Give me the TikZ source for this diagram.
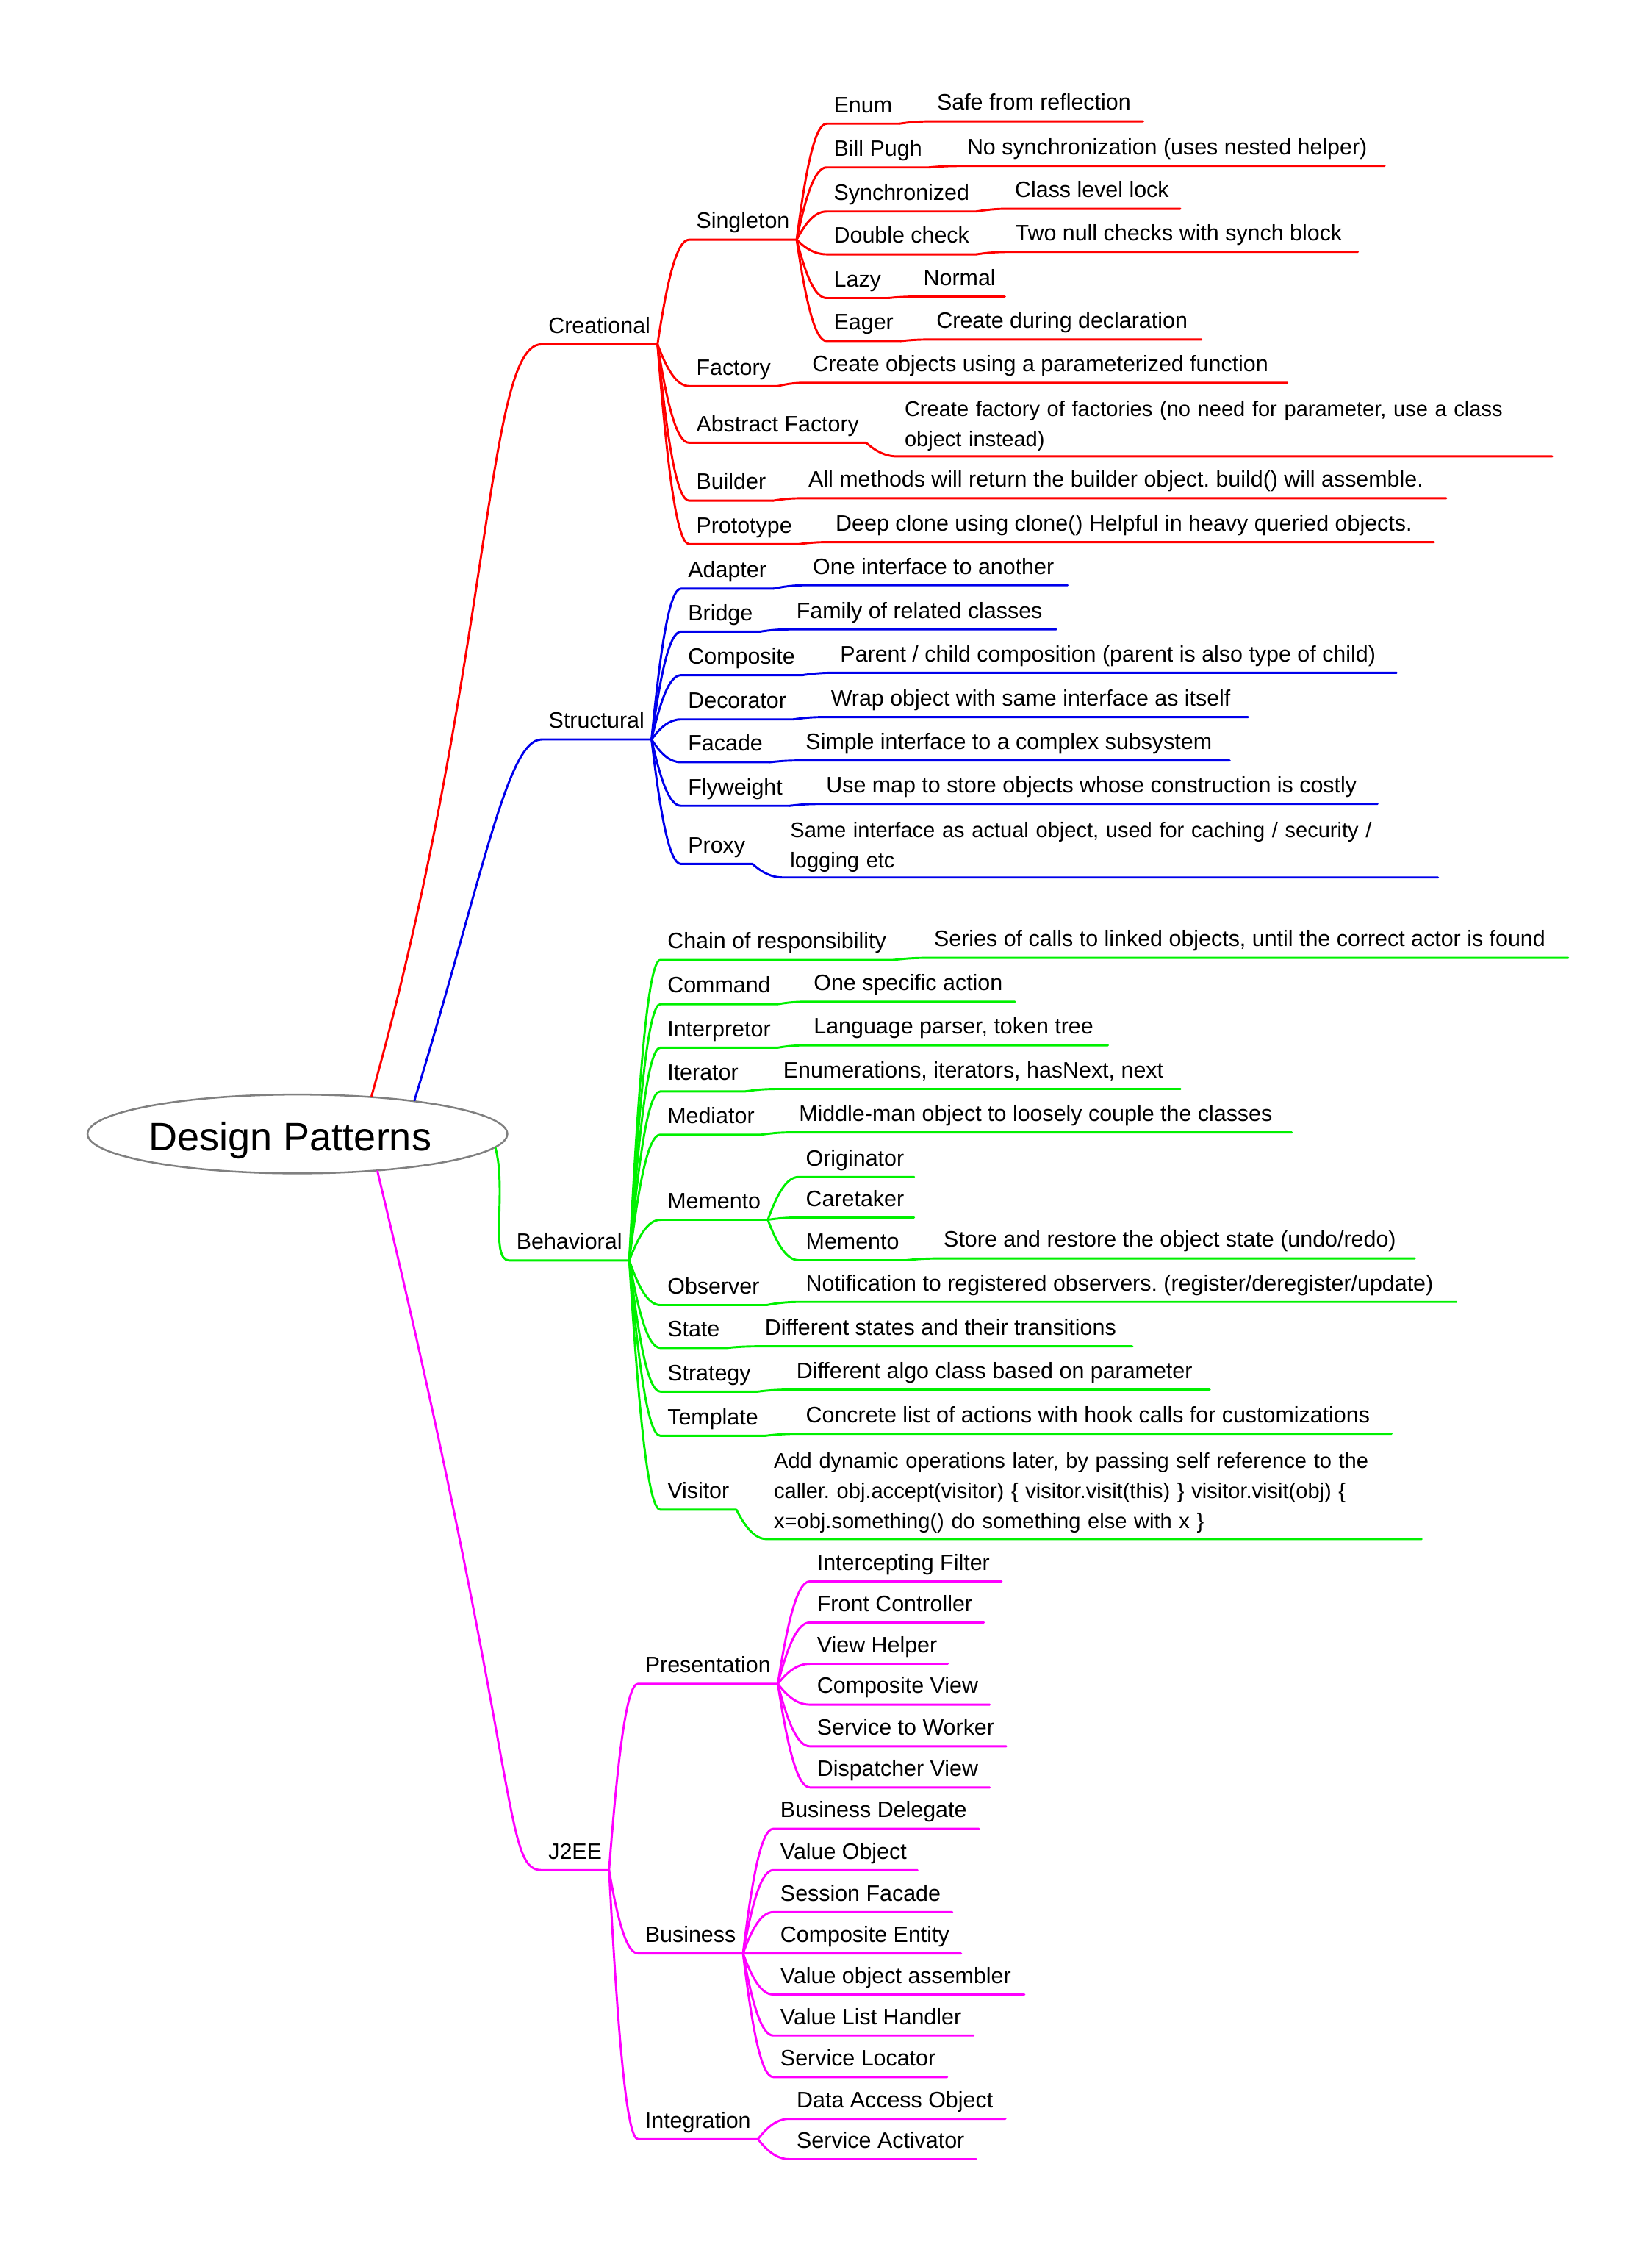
\documentclass[tikz,border=0pt]{standalone}
\usepackage{fontspec}
\setmainfont{Liberation Sans}
\usetikzlibrary{calc, shapes.geometric}
\definecolor{crered}{RGB}{255,0,0}
\definecolor{strblue}{RGB}{0,0,235}
\definecolor{behgreen}{RGB}{0,240,0}
\definecolor{jeepink}{RGB}{255,0,255}
\definecolor{rootgray}{RGB}{128,128,128}

\begin{document}
\frenchspacing
\begin{tikzpicture}[x=1pt, y=-1pt,
    topic/.style={anchor=south west, inner xsep=5pt, inner ysep=0pt, outer sep=0pt,
      text height=11.5pt, text depth=7.8pt, font=\fontsize{15.6}{21}\selectfont\frenchspacing},
    para/.style={topic, text width=447pt, align=left, text depth=#1,
      font=\fontsize{14.9}{21}\selectfont\frenchspacing},
    twig/.style={line width=1.5pt, line cap=round, line join=round},
    redtwig/.style={twig, draw=crered},
    bluetwig/.style={twig, draw=strblue},
    greentwig/.style={twig, draw=behgreen},
    pinktwig/.style={twig, draw=jeepink},
    fork/.style={to path={let \p1=(\tikztostart), \p2=(\tikztotarget) in
      .. controls ({0.7*\x1+0.3*\x2},{0.4*\y1+0.6*\y2}) and ({0.4*\x1+0.6*\x2},\y2)
      .. (\tikztotarget) \tikztonodes}}]
    \useasboundingbox (0,0) rectangle (1153,1568);

    % centre
    \node[draw=rootgray, line width=1.3pt, ellipse, minimum width=293pt, minimum height=55pt,
      inner sep=0pt, text height=23pt, text depth=0pt,
      font=\fontsize{27.7}{32}\selectfont] (root) at (207.6,791.3) {Design Patterns\kern10pt\hbox{}};

    % Creational
    \node[topic] (crea) at (377.8,240.3) {Creational};
    \node[topic] (sing) at (481,167.3) {Singleton};
    \node[topic] (enum) at (577,86.3) {Enum};
    \node[topic] (enumx) at (649,84.7) {Safe from reflection};
    \node[topic] (bill) at (577,116.8) {Bill Pugh};
    \node[topic] (billx) at (670,115.8) {No synchronization (uses nested helper)};
    \node[topic] (sync) at (577,147.6) {Synchronized};
    \node[topic] (syncx) at (703.4,145.7) {Class level lock};
    \node[topic] (dbl) at (577,177.5) {Double check};
    \node[topic] (dblx) at (703.7,175.8) {Two null checks with synch block};
    \node[topic] (lazy) at (577,208) {Lazy};
    \node[topic] (lazyx) at (639.6,207) {Normal};
    \node[topic] (eager) at (577,238) {Eager};
    \node[topic] (eagerx) at (648.7,236.9) {Create during declaration};
    \node[topic] (fact) at (481,269.4) {Factory};
    \node[topic] (factx) at (562,267.1) {Create objects using a parameterized function};
    \node[topic] (abst) at (481,309) {Abstract Factory};
    \node[para=28pt] (abstx) at (626.4,318.5)
      {Create factory of factories (no need for parameter, use a class\\object instead)};
    \node[topic] (build) at (481,349.4) {Builder};
    \node[topic] (buildx) at (559.3,347.7) {All methods will return the builder object. build() will assemble.};
    \node[topic] (proto) at (481,379.7) {Prototype};
    \node[topic] (protox) at (578.3,378.3) {Deep clone using clone() Helpful in heavy queried objects.};

    % Structural
    \node[topic] (struc) at (378,516) {Structural};
    \node[topic] (adap) at (475.3,410.8) {Adapter};
    \node[topic] (adapx) at (562.4,408.4) {One interface to another};
    \node[topic] (brid) at (475.3,440.8) {Bridge};
    \node[topic] (bridx) at (550.9,439.2) {Family of related classes};
    \node[topic] (comp) at (475.3,471.2) {Composite};
    \node[topic] (compx) at (581.5,469.5) {Parent / child composition (parent is also type of child)};
    \node[topic] (deco) at (475.3,502) {Decorator};
    \node[topic] (decox) at (575,500.4) {Wrap object with same interface as itself};
    \node[topic] (faca) at (475.3,531.9) {Facade};
    \node[topic] (facax) at (557.4,530.7) {Simple interface to a complex subsystem};
    \node[topic] (flyw) at (475.3,562.3) {Flyweight};
    \node[topic] (flywx) at (571.7,561) {Use map to store objects whose construction is costly};
    \node[topic] (prox) at (475.3,602.9) {Proxy};
    \node[para=28pt] (proxx) at (546.6,612.3)
      {Same interface as actual object, used for caching / security /\\logging etc};

    % Behavioral
    \node[topic] (beh) at (355.5,879.6) {Behavioral};
    \node[topic] (chain) at (460.9,669.9) {Chain of responsibility};
    \node[topic] (chainx) at (647,668.4) {Series of calls to linked objects, until the correct actor is found};
    \node[topic] (cmd) at (460.9,700.7) {Command};
    \node[topic] (cmdx) at (563,699) {One specific action};
    \node[topic] (intp) at (460.9,731.1) {Interpretor};
    \node[topic] (intpx) at (563,729.4) {Language parser, token tree};
    \node[topic] (iter) at (460.9,761.6) {Iterator};
    \node[topic] (iterx) at (541.7,759.9) {Enumerations, iterators, hasNext, next};
    \node[topic] (medi) at (460.9,791.8) {Mediator};
    \node[topic] (medix) at (552.7,790.2) {Middle-man object to loosely couple the classes};
    \node[topic] (meme) at (460.9,851.2) {Memento};
    \node[topic] (orig) at (557.5,821.3) {Originator};
    \node[topic] (care) at (557.5,849.6) {Caretaker};
    \node[topic] (memo) at (557.5,879.4) {Memento};
    \node[topic] (memox) at (653.7,878.2) {Store and restore the object state (undo/redo)};
    \node[topic] (obsv) at (460.9,910.7) {Observer};
    \node[topic] (obsvx) at (557.5,908.5) {Notification to registered observers. (register/deregister/update)};
    \node[topic] (stat) at (460.9,940.6) {State};
    \node[topic] (statx) at (528.9,939.5) {Different states and their transitions};
    \node[topic] (strg) at (460.9,971.1) {Strategy};
    \node[topic] (strgx) at (550.9,969.7) {Different algo class based on parameter};
    \node[topic] (tmpl) at (460.9,1001.9) {Template};
    \node[topic] (tmplx) at (557.5,1000.5) {Concrete list of actions with hook calls for customizations};
    \node[topic] (visi) at (460.9,1053.5) {Visitor};
    \node[para=49.5pt] (visix) at (535.2,1074)
      {Add dynamic operations later, by passing self reference to the\\
       caller. obj.accept(visitor) \{ visitor.visit(this) \} visitor.visit(obj) \{\\
       x=obj.something() do something else with x \}};

    % J2EE
    \node[topic] (j2ee) at (377.8,1305) {J2EE};
    \node[topic] (pres) at (445.3,1175) {Presentation};
    \node[topic] (ifil) at (565.3,1103.5) {Intercepting Filter};
    \node[topic] (fctl) at (565.3,1132.2) {Front Controller};
    \node[topic] (vhlp) at (565.3,1161) {View Helper};
    \node[topic] (cvw) at (565.3,1189.5) {Composite View};
    \node[topic] (stw) at (565.3,1218.6) {Service to Worker};
    \node[topic] (dvw) at (565.3,1247.3) {Dispatcher View};
    \node[topic] (busi) at (445.3,1363.1) {Business};
    \node[topic] (bdel) at (539.7,1276.2) {Business Delegate};
    \node[topic] (vobj) at (539.7,1305) {Value Object};
    \node[topic] (sfac) at (539.7,1334.3) {Session Facade};
    \node[topic] (cent) at (539.7,1363.1) {Composite Entity};
    \node[topic] (voa) at (539.7,1391.8) {Value object assembler};
    \node[topic] (vlh) at (539.7,1420.4) {Value List Handler};
    \node[topic] (sloc) at (539.7,1449.4) {Service Locator};
    \node[topic] (intg) at (445.3,1492.7) {Integration};
    \node[topic] (dao) at (551.1,1478.5) {Data Access Object};
    \node[topic] (sact) at (551.1,1506.7) {Service Activator};

    % connectors, each one also underlines its child (leaf lines run a bit longer)
    \draw[redtwig] (root.27) .. controls +(84,-300) and +(-39,0) .. (crea.south west) -- (crea.south east);
    \foreach \dn in {sing,fact,abst,build,proto}
      \draw[redtwig] (crea.south east) to[fork] (\dn.south west) -- (\dn.south east);
    \foreach \dn in {enum,bill,sync,dbl,lazy,eager}
      \draw[redtwig] (sing.south east) to[fork] (\dn.south west) -- (\dn.south east);
    \foreach \up/\dn in {enum/enumx,bill/billx,sync/syncx,dbl/dblx,lazy/lazyx,eager/eagerx,
        fact/factx,build/buildx,proto/protox}
      \draw[redtwig] (\up.south east) to[fork] (\dn.south west) -- ($(\dn.south west)!1.025!(\dn.south east)$);
    \draw[redtwig] (abst.south east) to[fork] (abstx.south west) -- (abstx.south east);

    \draw[bluetwig] (root.16) .. controls +(48,-157) and +(-24,0) .. (struc.south west) -- (struc.south east);
    \foreach \dn in {adap,brid,comp,deco,faca,flyw,prox}
      \draw[bluetwig] (struc.south east) to[fork] (\dn.south west) -- (\dn.south east);
    \foreach \up/\dn in {adap/adapx,brid/bridx,comp/compx,deco/decox,faca/facax,flyw/flywx}
      \draw[bluetwig] (\up.south east) to[fork] (\dn.south west) -- ($(\dn.south west)!1.025!(\dn.south east)$);
    \draw[bluetwig] (prox.south east) to[fork] (proxx.south west) -- (proxx.south east);

    \draw[greentwig] (root.-4) .. controls +(8,30) and +(-14,0) .. (beh.south west) -- (beh.south east);
    \foreach \dn in {chain,cmd,intp,iter,medi,meme,obsv,stat,strg,tmpl,visi}
      \draw[greentwig] (beh.south east) to[fork] (\dn.south west) -- (\dn.south east);
    \foreach \dn in {orig,care}
      \draw[greentwig] (meme.south east) to[fork] (\dn.south west) -- ($(\dn.south west)!1.025!(\dn.south east)$);
    \draw[greentwig] (meme.south east) to[fork] (memo.south west) -- (memo.south east);
    \foreach \up/\dn in {chain/chainx,cmd/cmdx,intp/intpx,iter/iterx,medi/medix,memo/memox,
        obsv/obsvx,stat/statx,strg/strgx,tmpl/tmplx}
      \draw[greentwig] (\up.south east) to[fork] (\dn.south west) -- ($(\dn.south west)!1.025!(\dn.south east)$);
    \draw[greentwig] (visi.south east) to[fork] (visix.south west) -- (visix.south east);

    \draw[pinktwig] (root.-25) .. controls +(101,420) and +(-27,0) .. (j2ee.south west) -- (j2ee.south east);
    \foreach \dn in {pres,busi,intg}
      \draw[pinktwig] (j2ee.south east) to[fork] (\dn.south west) -- (\dn.south east);
    \foreach \dn in {ifil,fctl,vhlp,cvw,stw,dvw}
      \draw[pinktwig] (pres.south east) to[fork] (\dn.south west) -- ($(\dn.south west)!1.025!(\dn.south east)$);
    \foreach \dn in {bdel,vobj,sfac,cent,voa,vlh,sloc}
      \draw[pinktwig] (busi.south east) to[fork] (\dn.south west) -- ($(\dn.south west)!1.025!(\dn.south east)$);
    \foreach \dn in {dao,sact}
      \draw[pinktwig] (intg.south east) to[fork] (\dn.south west) -- ($(\dn.south west)!1.025!(\dn.south east)$);
\end{tikzpicture}
\end{document}
